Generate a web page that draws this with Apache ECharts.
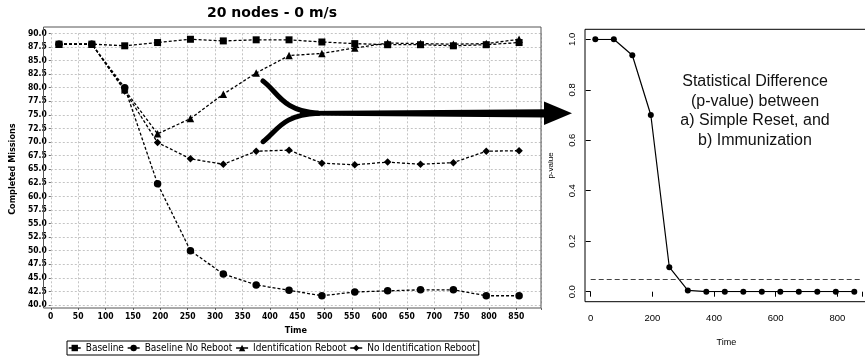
<!DOCTYPE html>
<html>
<head>
<meta charset="utf-8">
<title>20 nodes - 0 m/s</title>
<script src="https://cdn.jsdelivr.net/npm/echarts@6/dist/echarts.min.js"></script>
<style>
  html, body { margin: 0; padding: 0; background: #fff; }
  #chart { width: 865px; height: 360px; }
</style>
</head>
<body>
<div id="chart"></div>
<script>
// time steps shared by both plots
const times = [15, 75, 135, 195, 255, 315, 375, 435, 495, 555, 615, 675, 735, 795, 855];

// left plot: completed missions
const baseline         = [88.0, 88.0, 87.7, 88.3, 88.9, 88.6, 88.8, 88.8, 88.4, 88.1, 87.9, 87.9, 87.7, 87.9, 88.3];
const baselineNoReboot = [88.0, 88.0, 80.0, 62.3, 50.0, 45.7, 43.7, 42.7, 41.7, 42.4, 42.6, 42.8, 42.8, 41.7, 41.7];
const idReboot         = [88.0, 88.0, 79.6, 71.5, 74.3, 78.8, 82.7, 85.9, 86.3, 87.3, 88.2, 88.1, 88.0, 88.1, 88.9];
const noIdReboot       = [88.0, 88.0, 79.4, 69.9, 66.9, 65.9, 68.3, 68.5, 66.1, 65.8, 66.3, 65.9, 66.2, 68.3, 68.4];

// right plot: p-value between simple reset and immunization
const pValues = [1.0, 1.0, 0.937, 0.70, 0.097, 0.005, 0, 0, 0, 0, 0, 0, 0, 0, 0];
const pThreshold = 0.05;

const seriesNames = ['Baseline', 'Baseline No Reboot', 'Identification Reboot', 'No Identification Reboot'];

const pair = (xs, ys) => xs.map((x, i) => [x, ys[i]]);

const jfont = "'DejaVu Sans Condensed', 'Liberation Sans', sans-serif";
const rfont = "'Liberation Sans', Arial, sans-serif";

const dashed = { color: '#000', width: 1.3, type: [3, 2] };
const gridLine = { show: true, lineStyle: { color: '#c4c4c4', width: 1, type: [2, 2] } };

function lineSeries(name, ys, symbol, size) {
  return {
    name: name,
    type: 'line',
    xAxisIndex: 0,
    yAxisIndex: 0,
    data: pair(times, ys),
    symbol: symbol,
    symbolSize: size,
    lineStyle: dashed,
    itemStyle: { color: '#000' },
    emphasis: { disabled: true }
  };
}

const chart = echarts.init(document.getElementById('chart'));

const option = {
  backgroundColor: '#fff',
  animation: false,
  title: {
    text: '20 nodes - 0 m/s',
    left: 207,
    top: 6,
    padding: 0,
    textStyle: { fontFamily: 'DejaVu Sans', fontWeight: 'bold', fontSize: 14, color: '#000' }
  },
  legend: {
    data: seriesNames,
    left: 67,
    top: 341,
    padding: [2, 3, 2, 1],
    itemGap: 3,
    itemWidth: 12,
    itemHeight: 8,
    borderColor: '#000',
    borderWidth: 1,
    lineStyle: { type: 'solid', width: 1.5 },
    textStyle: { fontFamily: jfont, fontSize: 10, color: '#000' }
  },
  grid: [
    { left: 43.5, right: 324, top: 33.3, bottom: 55 },
    { left: 590.7, right: 0, top: 39.3, bottom: 68.3 }
  ],
  xAxis: [
    {
      gridIndex: 0,
      type: 'value',
      min: 0,
      max: 895,
      interval: 50,
      offset: 3,
      name: 'Time',
      nameLocation: 'middle',
      nameGap: 15,
      nameTextStyle: { fontFamily: jfont, fontWeight: 'bold', fontSize: 9, color: '#000' },
      axisLine: { show: false },
      axisTick: { show: true, length: 2, lineStyle: { color: '#666' } },
      axisLabel: {
        margin: 4,
        fontFamily: jfont, fontWeight: 'bold', fontSize: 8.5, color: '#000',
        formatter: v => (v % 50 === 0 ? String(v) : '')
      },
      splitLine: gridLine
    },
    {
      gridIndex: 1,
      type: 'value',
      min: 0,
      max: 880,
      interval: 200,
      offset: 10,
      name: 'Time',
      nameLocation: 'middle',
      nameGap: 36,
      nameTextStyle: { fontFamily: rfont, fontSize: 9, color: '#000' },
      axisLine: { show: false },
      axisTick: { show: true, length: 5, lineStyle: { color: '#000' } },
      axisLabel: {
        margin: 12,
        fontFamily: rfont, fontSize: 9.5, color: '#000',
        formatter: v => (v % 200 === 0 ? String(v) : '')
      },
      splitLine: { show: false }
    }
  ],
  yAxis: [
    {
      gridIndex: 0,
      type: 'value',
      min: 40,
      max: 90,
      interval: 2.5,
      name: 'Completed Missions',
      nameLocation: 'middle',
      nameRotate: 90,
      nameGap: 22,
      nameTextStyle: { fontFamily: jfont, fontWeight: 'bold', fontSize: 9, color: '#000' },
      axisLine: { show: false },
      axisTick: { show: true, length: 2, lineStyle: { color: '#666' } },
      axisLabel: {
        margin: 4,
        fontFamily: jfont, fontWeight: 'bold', fontSize: 8.5, color: '#000',
        formatter: v => v.toFixed(1)
      },
      splitLine: gridLine
    },
    {
      gridIndex: 1,
      type: 'value',
      min: 0,
      max: 1,
      interval: 0.2,
      offset: 5.7,
      name: 'p-value',
      nameLocation: 'middle',
      nameRotate: 90,
      nameGap: 30,
      nameTextStyle: { fontFamily: rfont, fontSize: 8, color: '#000' },
      axisLine: { show: false },
      axisTick: { show: true, length: 5, lineStyle: { color: '#000' } },
      axisLabel: {
        margin: 8,
        rotate: 90,
        fontFamily: rfont, fontSize: 9.5, color: '#000',
        formatter: v => v.toFixed(1)
      },
      splitLine: { show: false }
    }
  ],
  series: [
    lineSeries(seriesNames[0], baseline, 'rect', 7),
    lineSeries(seriesNames[1], baselineNoReboot, 'circle', 7.5),
    lineSeries(seriesNames[2], idReboot, 'triangle', 7.5),
    lineSeries(seriesNames[3], noIdReboot, 'diamond', 7.5),
    {
      name: 'p-value',
      type: 'line',
      xAxisIndex: 1,
      yAxisIndex: 1,
      data: pair(times, pValues),
      symbol: 'circle',
      symbolSize: 6,
      lineStyle: { color: '#000', width: 1.2 },
      itemStyle: { color: '#000' },
      emphasis: { disabled: true },
      markLine: {
        silent: true,
        symbol: 'none',
        label: { show: false },
        lineStyle: { color: '#444', width: 1.1, type: [5, 3] },
        data: [{ yAxis: pThreshold }]
      }
    }
  ],
  graphic: [
    // plot frames
    {
      type: 'rect', silent: true, z: 1,
      shape: { x: 43.5, y: 27, width: 497.5, height: 281 },
      style: { fill: null, stroke: '#555', lineWidth: 1 }
    },
    {
      type: 'rect', silent: true, z: 1,
      shape: { x: 585, y: 29.3, width: 290, height: 272.4 },
      style: { fill: null, stroke: '#000', lineWidth: 1 }
    },
    // arrow from the left plot to the right plot
    {
      type: 'bezierCurve', silent: true, z: 100,
      shape: { x1: 263, y1: 81, cpx1: 278, cpy1: 92, cpx2: 282, cpy2: 111, x2: 318, y2: 113.3 },
      style: { fill: null, stroke: '#000', lineWidth: 5, lineCap: 'round' }
    },
    {
      type: 'bezierCurve', silent: true, z: 100,
      shape: { x1: 263, y1: 141.7, cpx1: 278, cpy1: 130, cpx2: 282, cpy2: 115, x2: 318, y2: 113.3 },
      style: { fill: null, stroke: '#000', lineWidth: 5, lineCap: 'round' }
    },
    {
      type: 'polygon', silent: true, z: 100,
      shape: { points: [[300, 111], [546, 109.3], [546, 117.5], [300, 115.6]] },
      style: { fill: '#000' }
    },
    {
      type: 'polygon', silent: true, z: 100,
      shape: { points: [[544, 101.5], [572, 113.3], [544, 125]] },
      style: { fill: '#000' }
    },
    {
      type: 'text', silent: true, z: 100,
      x: 755, y: 72,
      style: {
        text: 'Statistical Difference\n(p-value) between\na) Simple Reset, and\nb) Immunization',
        font: "16px 'Liberation Sans', Arial, sans-serif",
        fill: '#111',
        align: 'center',
        verticalAlign: 'top',
        lineHeight: 19.5
      }
    }
  ]
};

chart.setOption(option);
</script>
</body>
</html>
